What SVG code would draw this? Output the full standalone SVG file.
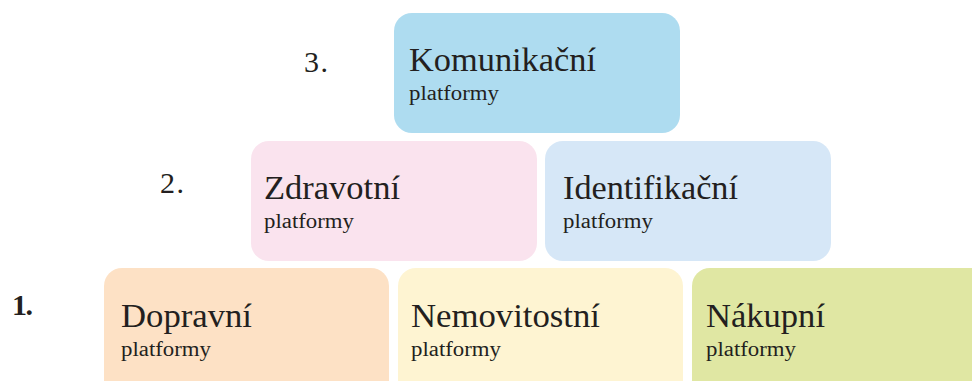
<svg xmlns="http://www.w3.org/2000/svg" width="972" height="381" viewBox="0 0 972 381">
<style>
.box{stroke:none}
.t{font-family:"Liberation Serif","DejaVu Serif",serif;fill:#231f20}
.title{font-size:34px}
.sub{font-size:20px}
.lvl{font-size:30px}
</style>
<rect width="972" height="381" fill="#ffffff"/>
<g id="levels">
<text class="t lvl" x="304" y="72" textLength="24">3.</text>
<text class="t lvl" x="160" y="193" textLength="24">2.</text>
<text class="t lvl" x="12" y="315" font-weight="bold" font-size="27" textLength="21">1.</text>
</g>
<g id="komunikacni">
<rect class="box" x="394" y="13" width="286" height="120" rx="18" fill="#aedcf0"/>
<text class="t title" x="409" y="71" textLength="187" lengthAdjust="spacingAndGlyphs">Komunikační</text>
<text class="t sub" x="409" y="100" textLength="90" lengthAdjust="spacingAndGlyphs">platformy</text>
</g>
<g id="zdravotni">
<rect class="box" x="251" y="141" width="286" height="120" rx="18" fill="#fae3ee"/>
<text class="t title" x="264" y="199" textLength="136" lengthAdjust="spacingAndGlyphs">Zdravotní</text>
<text class="t sub" x="264" y="228" textLength="90" lengthAdjust="spacingAndGlyphs">platformy</text>
</g>
<g id="identifikacni">
<rect class="box" x="545" y="141" width="286" height="120" rx="18" fill="#d6e7f7"/>
<text class="t title" x="563" y="199" textLength="175" lengthAdjust="spacingAndGlyphs">Identifikační</text>
<text class="t sub" x="563" y="228" textLength="90" lengthAdjust="spacingAndGlyphs">platformy</text>
</g>
<g id="dopravni">
<rect class="box" x="104" y="268" width="285" height="130" rx="18" fill="#fde1c5"/>
<text class="t title" x="121" y="327" textLength="131" lengthAdjust="spacingAndGlyphs">Dopravní</text>
<text class="t sub" x="121" y="356" textLength="90" lengthAdjust="spacingAndGlyphs">platformy</text>
</g>
<g id="nemovitostni">
<rect class="box" x="398" y="268" width="285" height="130" rx="18" fill="#fef4d2"/>
<text class="t title" x="411" y="327" textLength="189" lengthAdjust="spacingAndGlyphs">Nemovitostní</text>
<text class="t sub" x="411" y="356" textLength="90" lengthAdjust="spacingAndGlyphs">platformy</text>
</g>
<g id="nakupni">
<rect class="box" x="692" y="268" width="300" height="130" rx="18" fill="#e0e7a3"/>
<text class="t title" x="706" y="327" textLength="119" lengthAdjust="spacingAndGlyphs">Nákupní</text>
<text class="t sub" x="706" y="356" textLength="90" lengthAdjust="spacingAndGlyphs">platformy</text>
</g>
<g id="connectors"></g>
</svg>
